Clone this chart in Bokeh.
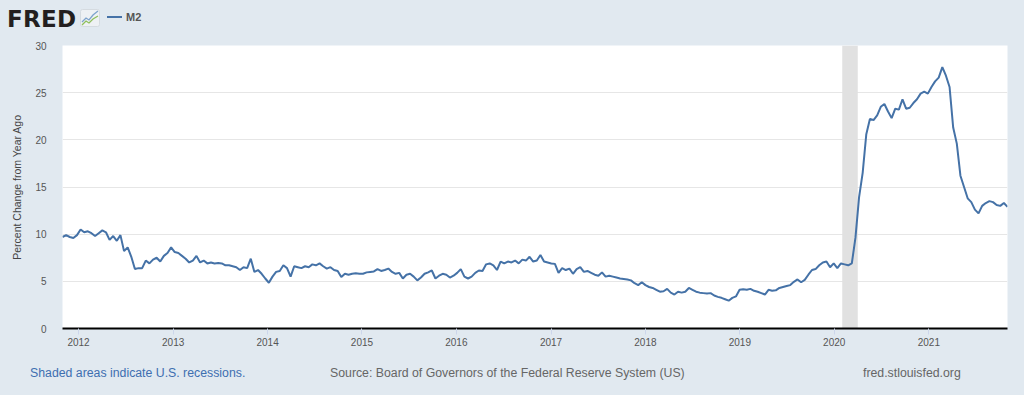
import pandas as pd
from bokeh.plotting import figure
from bokeh.layouts import column
from bokeh.models import (ColumnDataSource, BoxAnnotation, FixedTicker, Div,
                          DatetimeTickFormatter, Range1d)
from bokeh.embed import file_html
from bokeh.resources import INLINE

# ---------------- data ----------------
series_name = "M2"
start_date = "2011-10-31"          # first observation, then every 14 days
step = "14D"

m2_2011_2013 = [
    9.7, 9.9, 9.7, 9.6, 9.9, 10.5, 10.2, 10.3, 10.1, 9.8,
    10.1, 10.4, 10.2, 9.4, 9.8, 9.3, 9.9, 8.2, 8.6, 7.6,
    6.3, 6.4, 6.4, 7.2, 6.9, 7.3, 7.5, 7.1, 7.7, 8.0,
    8.6, 8.1, 8.0, 7.7, 7.4, 7.0, 7.2, 7.7, 7.0, 7.2,
    6.9, 7.0, 6.9, 6.95, 6.9, 6.7, 6.7, 6.6, 6.5, 6.2,
    6.5, 6.4, 7.4, 6.0, 6.2, 5.8,
]
m2_2014_2015 = [
    5.3, 4.85, 5.5, 6.0, 6.1, 6.7, 6.4, 5.5, 6.6, 6.5,
    6.4, 6.6, 6.5, 6.8, 6.7, 6.9, 6.6, 6.35, 6.5, 6.2,
    6.1, 5.45, 5.8, 5.7, 5.8, 5.85, 5.8, 5.8, 5.95, 6.0,
    6.05, 6.3, 6.1, 6.2, 6.35, 6.0, 5.8, 5.9, 5.3, 5.7,
    5.8, 5.5, 5.1, 5.4, 5.8, 5.95, 6.15, 5.3, 5.6, 5.8,
    5.7, 5.4,
]
m2_2016_2017 = [
    5.6, 5.9, 6.3, 5.5, 5.3, 5.5, 5.9, 6.15, 6.1, 6.8,
    6.9, 6.7, 6.2, 7.1, 6.9, 7.1, 7.0, 7.2, 6.9, 7.3,
    7.2, 7.6, 7.1, 7.2, 7.8, 7.1, 7.0, 6.9, 6.85, 5.9,
    6.4, 6.2, 6.35, 5.8, 6.3, 6.5, 6.0, 6.1, 5.9, 5.7,
    5.6, 5.95, 5.5, 5.6, 5.5, 5.4, 5.3, 5.25, 5.2, 5.1,
    4.8, 4.6,
]
m2_2018_2019 = [
    4.9, 4.6, 4.4, 4.3, 4.1, 3.9, 3.95, 4.2, 3.8, 3.6,
    3.9, 3.8, 3.9, 4.3, 4.1, 3.9, 3.8, 3.75, 3.7, 3.75,
    3.5, 3.35, 3.25, 3.1, 2.95, 3.25, 3.4, 4.1, 4.15, 4.1,
    4.2, 4.0, 3.9, 3.75, 3.6, 4.1, 4.0, 4.05, 4.3, 4.4,
    4.5, 4.6, 4.95, 5.2, 4.9, 5.15, 5.7, 6.2, 6.3, 6.7,
    7.0, 7.1,
]
m2_2020_2021 = [
    6.5, 6.9, 6.4, 6.9, 6.8, 6.7, 6.9, 9.6, 13.9, 16.5,
    20.6, 22.2, 22.1, 22.6, 23.5, 23.8, 23.0, 22.3, 23.3, 23.2,
    24.3, 23.3, 23.4, 23.9, 24.3, 24.9, 25.1, 24.9, 25.6, 26.2,
    26.6, 27.7, 26.8, 25.6, 21.3, 19.6, 16.2, 15.0, 13.8, 13.4,
    12.6, 12.2, 13.0, 13.3, 13.5, 13.4, 13.1, 13.0, 13.3, 12.9,
]

recession_start = "2020-02-01"
recession_end = "2020-04-01"
tick_years = list(range(2012, 2022))
y_ticks = [0, 5, 10, 15, 20, 25, 30]

y_label = "Percent Change from Year Ago"
note_left = "Shaded areas indicate U.S. recessions."
note_source = "Source: Board of Governors of the Federal Reserve System (US)"
note_right = "fred.stlouisfed.org"

# ---------------- build ----------------
m2 = m2_2011_2013 + m2_2014_2015 + m2_2016_2017 + m2_2018_2019 + m2_2020_2021
dates = pd.date_range(start_date, periods=len(m2), freq=step)
source = ColumnDataSource(dict(date=dates, value=m2))

BG = "#e1e9f0"
FONT = "Liberation Sans"
LINE = "#4572a7"

p = figure(width=1024, height=320, x_axis_type="datetime",
           output_backend="svg", toolbar_location=None,
           x_range=Range1d(dates[0], dates[-1]), y_range=Range1d(0, 30),
           min_border_left=62, min_border_right=17,
           min_border_top=10, min_border_bottom=27,
           background_fill_color="white", border_fill_color=BG,
           outline_line_color=None, margin=0)

# recession shading
p.add_layout(BoxAnnotation(left=pd.Timestamp(recession_start).timestamp() * 1000,
                           right=pd.Timestamp(recession_end).timestamp() * 1000,
                           fill_color="#e1e1e1", fill_alpha=1.0,
                           line_color=None, level="underlay"))

p.line("date", "value", source=source, line_color=LINE, line_width=2)

# x axis
xt = [pd.Timestamp(f"{y}-01-01").timestamp() * 1000 for y in tick_years]
p.xaxis.ticker = FixedTicker(ticks=xt)
p.xaxis.formatter = DatetimeTickFormatter(years="%Y", months="%Y", days="%Y",
                                          hours="%Y", minutes="%Y")
p.xaxis.axis_line_color = "black"
p.xaxis.axis_line_width = 2
p.xaxis.major_tick_line_color = "#ccd6eb"
p.xaxis.major_tick_out = 6
p.xaxis.major_tick_in = 0
p.xaxis.minor_tick_line_color = None
p.xaxis.major_label_standoff = 3
p.xaxis.major_label_text_font = FONT
p.xaxis.major_label_text_font_size = "10px"
p.xaxis.major_label_text_color = "#555555"

# y axis
p.yaxis.ticker = FixedTicker(ticks=y_ticks)
p.yaxis.axis_line_color = None
p.yaxis.major_tick_line_color = None
p.yaxis.major_tick_out = 0
p.yaxis.major_tick_in = 0
p.yaxis.minor_tick_line_color = None
p.yaxis.major_label_standoff = 16
p.yaxis.major_label_text_font = FONT
p.yaxis.major_label_text_font_size = "10px"
p.yaxis.major_label_text_color = "#555555"
p.yaxis.axis_label = y_label
p.yaxis.axis_label_text_font = FONT
p.yaxis.axis_label_text_font_size = "10.5px"
p.yaxis.axis_label_text_font_style = "normal"
p.yaxis.axis_label_text_color = "#444444"
p.yaxis.axis_label_standoff = 9

p.xgrid.visible = False
p.ygrid.ticker = FixedTicker(ticks=y_ticks)
p.ygrid.grid_line_color = "#e6e6e6"

# header: FRED logo + legend
icon = ('<svg style="position:absolute;left:80px;top:9px" width="20" height="18">'
        '<rect x="0.5" y="0.5" width="19" height="17" rx="2" fill="#eef1f4" stroke="#d5dbe0"/>'
        '<polyline points="2,13 6,9 9,11 13,6 18,2" fill="none" stroke="#7ea3cc" stroke-width="1.3"/>'
        '<polyline points="2,16 6,12 9,14 13,10 18,7" fill="none" stroke="#8fbf5c" stroke-width="1.3"/>'
        '</svg>')
header = Div(width=1024, height=35, margin=0, text=(
    '<div style="position:relative;width:1024px;height:35px;">'
    '<span style="position:absolute;left:7px;top:6px;font-family:\'DejaVu Sans\';'
    'font-weight:bold;font-size:23px;letter-spacing:0.3px;line-height:26px;color:#231f20;">FRED</span>'
    + icon +
    '<span style="position:absolute;left:107px;top:16px;width:15px;height:2px;background:%s;"></span>'
    '<span style="position:absolute;left:126px;top:10px;font-family:\'%s\';font-weight:bold;'
    'font-size:11px;line-height:14px;color:#555555;">%s</span>'
    '</div>') % (LINE, FONT, series_name))

footer = Div(width=1024, height=40, margin=0, text=(
    '<div style="position:relative;width:1024px;height:40px;font-family:\'%s\';'
    'font-size:12.3px;line-height:14px;">'
    '<span style="position:absolute;left:30px;top:11px;color:#3e6fb0;white-space:nowrap;">%s</span>'
    '<span style="position:absolute;left:330px;top:11px;color:#666666;white-space:nowrap;">%s</span>'
    '<span style="position:absolute;left:863px;top:11px;color:#666666;white-space:nowrap;">%s</span>'
    '</div>') % (FONT, note_left, note_source, note_right))

layout = column(header, p, footer, spacing=0, margin=0)

html = file_html(layout, INLINE)
html = html.replace("<head>", "<head><style>html,body{background:%s;}</style>" % BG, 1)
open("out.html", "w").write(html)
